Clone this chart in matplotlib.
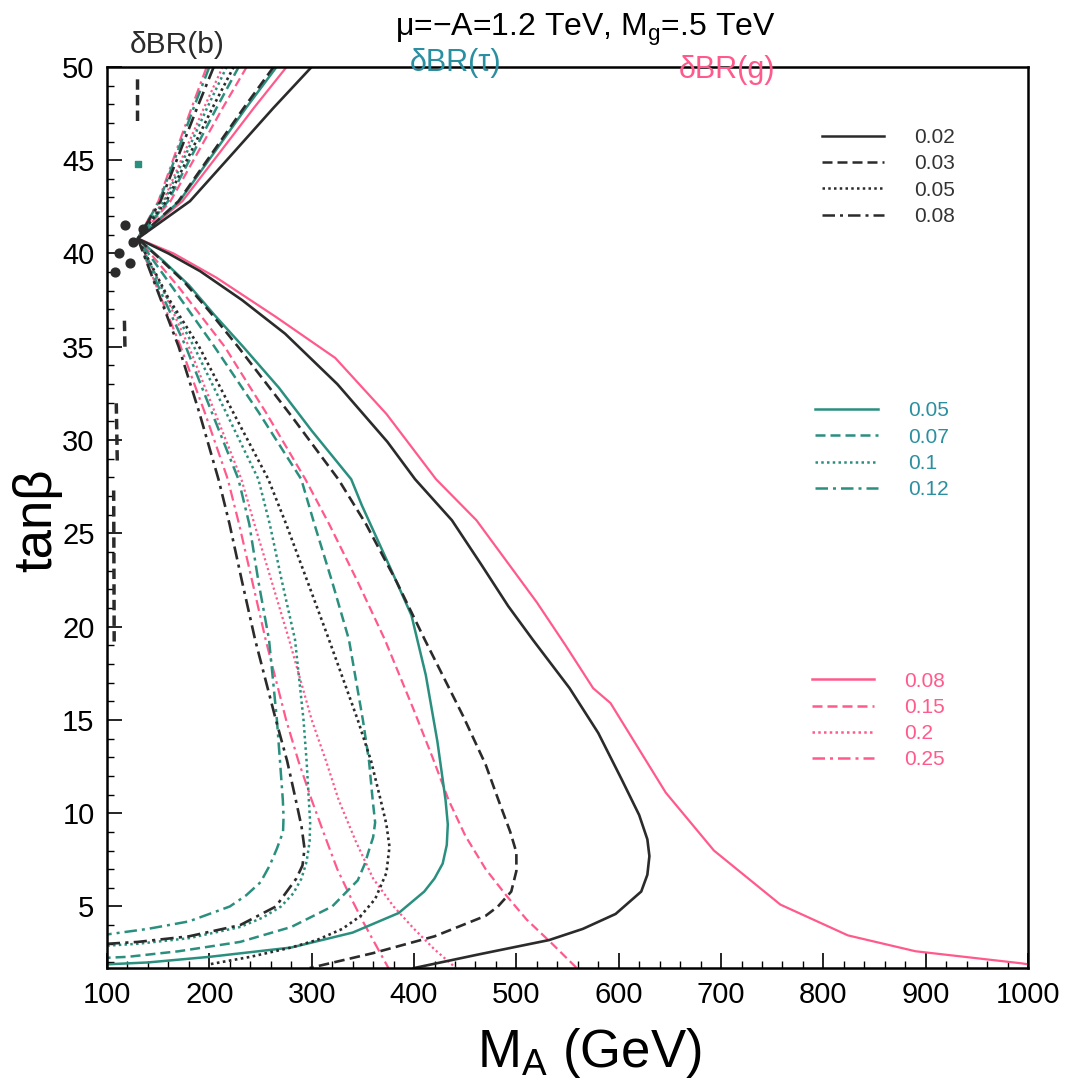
# contour plot of delta BR for b, tau and gluon channels in the (M_A, tan beta) plane
# values

import numpy as np
import matplotlib.pyplot as plt
from matplotlib.lines import Line2D

plt.rcParams['font.family'] = ['Liberation Sans', 'DejaVu Sans']
plt.rcParams['mathtext.fontset'] = 'custom'
plt.rcParams['mathtext.rm'] = 'Liberation Sans'
plt.rcParams['mathtext.it'] = 'Liberation Sans:italic'

# each curve goes: top end (tanb = 50) -> meeting point -> lower end
# delta BR(b)
b002_x = [300, 262.6, 223.5, 181, 130, 160, 191, 232, 274, 325, 374, 401, 437, 466, 492, 516, 552, 580, 603, 620, 628, 630, 628, 622, 597, 565, 532, 464, 400]
b002_y = [50, 47.8, 45.4, 42.8, 40.8, 40.0, 39.05, 37.5, 35.7, 33.0, 29.9, 27.9, 25.7, 23.3, 21.1, 19.3, 16.7, 14.3, 11.8, 9.9, 8.6, 7.7, 6.7, 5.8, 4.6, 3.8, 3.2, 2.44, 1.7]
b003_x = [262.8, 233.6, 203, 169.8, 130, 150, 175, 200, 228, 280, 326, 353, 383, 410.5, 448, 470, 482.5, 494, 500, 500, 495, 482, 470, 420, 360, 298]
b003_y = [50, 47.8, 45.4, 42.8, 40.8, 39.8, 38.5, 36.9, 35, 31.3, 27.9, 25.5, 22.4, 19.3, 15.2, 12.6, 10.7, 9.0, 7.9, 6.9, 5.8, 5.0, 4.5, 3.4, 2.5, 1.7]
b005_x = [223.8, 203, 181.6, 158, 130, 160, 190, 225, 257.6, 275, 296, 316.9, 345, 358, 367.4, 373, 376, 373, 362, 348, 330, 305, 280, 240, 200]
b005_y = [50, 47.8, 45.4, 42.8, 40.8, 37.6, 35, 31.3, 27.9, 25.5, 22.4, 19.3, 15, 12.8, 10.7, 9.4, 8.2, 6.8, 5.4, 4.5, 3.8, 3.2, 2.8, 2.3, 1.9]
b008_x = [204.3, 188, 170.9, 152.3, 130, 150, 170, 190, 208.9, 219.7, 232, 244.7, 265, 276, 284.5, 290, 293, 291, 285, 265, 230, 180, 130, 100]
b008_y = [50, 47.8, 45.4, 42.8, 40.8, 37.9, 35, 31.5, 27.9, 25.5, 22.4, 19.3, 15, 12.8, 10.7, 9.3, 8.1, 7.2, 6.5, 5.0, 4.0, 3.4, 3.1, 3.0]

# delta BR(tau)
t005_x = [265.7, 235.8, 204.6, 170.7, 130, 155, 180, 205, 233, 268, 300, 338.6, 349, 376.8, 397.5, 411.5, 422.8, 430.8, 433, 432, 428, 420, 410, 385, 340, 280, 200, 140, 100]
t005_y = [50, 47.8, 45.4, 42.8, 40.8, 39.6, 38.3, 36.7, 35, 32.8, 30.5, 27.9, 26.5, 23.15, 20.6, 17.4, 13.85, 10.7, 9.4, 8.3, 7.3, 6.5, 5.8, 4.65, 3.6, 2.8, 2.3, 2.0, 1.9]
t007_x = [228.7, 207, 184.3, 159.6, 130, 165, 205, 248, 289.8, 302.6, 320, 336.4, 350, 356, 359.6, 362, 360, 357, 352, 345, 320, 280, 230, 170, 120, 100]
t007_y = [50, 47.8, 45.4, 42.8, 40.8, 38.1, 35, 31.5, 27.9, 25.5, 22.4, 19.3, 15, 12.8, 10.7, 9.5, 8.7, 8.2, 7.3, 6.4, 5.0, 3.9, 3.1, 2.6, 2.3, 2.25]
t010_x = [216.9, 197.8, 177.8, 156, 130, 155, 185, 217, 247.9, 259, 271, 283.7, 292, 295, 297.2, 298.5, 298, 295, 290, 282, 270, 252, 230, 180, 130, 100]
t010_y = [50, 47.8, 45.4, 42.8, 40.8, 38, 35, 31.4, 27.9, 25.5, 22.4, 19.3, 15, 12.8, 10.7, 9.5, 8.5, 7.4, 6.5, 5.7, 5.0, 4.4, 3.9, 3.3, 3.0, 2.9]
t012_x = [200, 184.6, 168.5, 151, 130, 152, 177, 203, 228.4, 239, 248, 258.3, 266, 269, 271.8, 272.5, 272, 266, 259, 250, 236, 220, 180, 140, 100]
t012_y = [50, 47.8, 45.4, 42.8, 40.8, 38, 35, 31.4, 27.9, 25.5, 22.4, 19.3, 15, 12.8, 10.7, 9.8, 9.0, 8.1, 7.2, 6.3, 5.6, 5.0, 4.2, 3.8, 3.5]

# delta BR(g)
g008_x = [275.5, 243.5, 210, 173.6, 130, 165, 207, 265, 323, 373, 421.5, 461, 520, 548, 575, 592, 646, 693, 758, 824, 890, 994, 1000]
g008_y = [50, 47.8, 45.4, 42.8, 40.8, 40.0, 38.7, 36.6, 34.4, 31.4, 27.9, 25.7, 21.3, 19.0, 16.7, 15.9, 11.1, 8.0, 5.1, 3.45, 2.6, 1.95, 1.9]
g015_x = [236.5, 213, 188.6, 162, 130, 170, 215, 255, 293.8, 317, 345, 371.5, 400, 418, 433.8, 450, 470, 490, 510, 535, 559]
g015_y = [50, 47.8, 45.4, 42.8, 40.8, 38.2, 35, 31.5, 27.9, 25.5, 22.4, 19.3, 15.5, 13, 10.7, 8.8, 7.0, 5.6, 4.3, 3.0, 1.7]
g020_x = [213, 194.7, 175.6, 155, 130, 155, 180, 206, 231.3, 244, 261, 277.9, 300, 314, 326.4, 343, 360, 380, 400, 420, 441]
g020_y = [50, 47.8, 45.4, 42.8, 40.8, 38, 35, 31.4, 27.9, 25.5, 22.4, 19.3, 15, 12.8, 10.7, 8.5, 6.5, 5.0, 3.8, 2.7, 1.7]
g025_x = [197.4, 182.6, 167, 150.2, 130, 150, 172, 196, 218, 229, 242, 255, 275, 287, 300, 312, 325, 338, 350, 362, 375]
g025_y = [50, 47.8, 45.4, 42.8, 40.8, 38, 35, 31.4, 27.9, 25.5, 22.4, 19.3, 15, 12.8, 10.7, 8.9, 7, 5.5, 4.2, 3.0, 1.7]

# stray contour bits near the left edge
stray_x = [129.8, 129.8, None, 117.5, 117, None, 110, 109, None, 107, 106.5]
stray_y = [47.1, 49.6, None, 35, 36.4, None, 28.9, 32.1, None, 19.2, 27.3]
blob_x = [112, 118, 122, 135, 108, 125]
blob_y = [40, 41.5, 39.5, 41.3, 39, 40.6]

b_levels = ['0.02', '0.03', '0.05', '0.08']
t_levels = ['0.05', '0.07', '0.1', '0.12']
g_levels = ['0.08', '0.15', '0.2', '0.25']

black = '#2b2b2b'
teal = '#2a8f7e'
pink = '#ff5a8c'
styles = ['-', (0, (4, 2)), (0, (1, 1.3)), (0, (5, 2, 1.2, 2))]

fig = plt.figure(figsize=(10.66, 10.91), dpi=100)
ax = fig.add_axes([0.1004, 0.1127, 0.864, 0.826])

b_curves = [(b002_x, b002_y), (b003_x, b003_y), (b005_x, b005_y), (b008_x, b008_y)]
t_curves = [(t005_x, t005_y), (t007_x, t007_y), (t010_x, t010_y), (t012_x, t012_y)]
g_curves = [(g008_x, g008_y), (g015_x, g015_y), (g020_x, g020_y), (g025_x, g025_y)]

for (x, y), ls in zip(g_curves, styles):
    ax.plot(x, y, color=pink, ls=ls, lw=1.6)
for (x, y), ls in zip(t_curves, styles):
    ax.plot(x, y, color=teal, ls=ls, lw=1.8)
for (x, y), ls in zip(b_curves, styles):
    ax.plot(x, y, color=black, ls=ls, lw=1.9)

sx = [np.nan if v is None else v for v in stray_x]
sy = [np.nan if v is None else v for v in stray_y]
ax.plot(sx, sy, color=black, lw=2.5, ls=(0, (3, 1.5)))
ax.scatter(blob_x, blob_y, s=40, color=black, zorder=3)
ax.scatter([130], [44.8], s=25, color=teal, marker='s', zorder=3)

ax.set_xlim(100, 1000)
ax.set_ylim(1.7, 50)
ax.set_xticks(np.arange(100, 1001, 100))
ax.set_xticks(np.arange(100, 1001, 20), minor=True)
ax.set_yticks(np.arange(5, 51, 5))
ax.set_yticks(np.arange(2, 51, 1), minor=True)
ax.tick_params(which='both', direction='in', top=False, right=False)
ax.tick_params(which='major', length=11, width=1.2, labelsize=21, pad=9)
ax.tick_params(which='minor', length=5, width=1.0)
for s in ax.spines.values():
    s.set_linewidth(1.8)

# three legends, one per channel
def make_legend(levels, color, anchor, textcolor):
    handles = [Line2D([], [], color=color, ls=ls, lw=1.8) for ls in styles]
    leg = ax.legend(handles, levels, loc='upper left', bbox_to_anchor=anchor,
                    frameon=False, fontsize=15, labelspacing=0.35,
                    handlelength=3.0, handletextpad=1.45, borderpad=0,
                    borderaxespad=0, labelcolor=textcolor)
    return leg

leg1 = make_legend(b_levels, black, (0.776, 0.932), '#333333')
ax.add_artist(leg1)
leg2 = make_legend(t_levels, teal, (0.769, 0.629), '#2a8fa0')
ax.add_artist(leg2)
leg3 = make_legend(g_levels, pink, (0.765, 0.329), pink)

fig.text(0.549, 0.9725, r'μ=−A=1.2 TeV, M$_{\mathrm{g}}$=.5 TeV', ha='center', va='center', fontsize=23)
fig.text(0.166, 0.959, 'δBR(b)', ha='center', va='center', fontsize=21.5, color=black)
fig.text(0.427, 0.942, 'δBR(τ)', ha='center', va='center', fontsize=22, color='#2a8fa0')
fig.text(0.682, 0.936, 'δBR(g)', ha='center', va='center', fontsize=22, color=pink)

fig.text(0.035, 0.523, 'tanβ', rotation=90, ha='center', va='center', fontsize=38)
fig.text(0.553, 0.035, r'M$_{\mathrm{A}}$ (GeV)', ha='center', va='center', fontsize=38)

fig.savefig('out.png', dpi=100)
